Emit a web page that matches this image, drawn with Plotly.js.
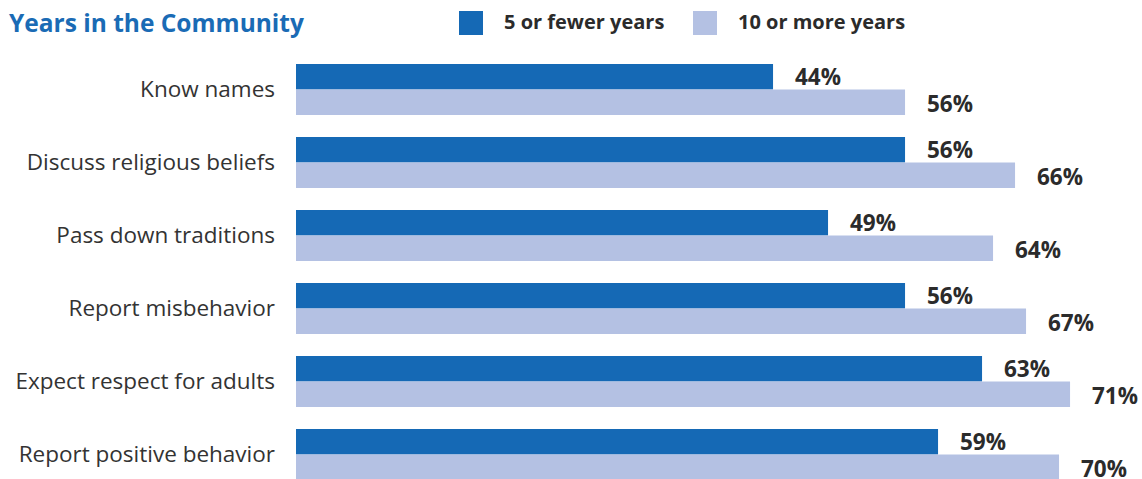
<!DOCTYPE html>
<html>
<head>
<meta charset="utf-8">
<script src="https://cdn.plot.ly/plotly-3.0.1.min.js"></script>
<style>
  html, body { margin: 0; padding: 0; background: #ffffff; }
  #chart { width: 1142px; height: 479px; }
</style>
</head>
<body>
<div id="chart"></div>
<script>
// Survey items, top to bottom
const categories = [
  "Know names",
  "Discuss religious beliefs",
  "Pass down traditions",
  "Report misbehavior",
  "Expect respect for adults",
  "Report positive behavior"
];
const seriesNames = ["5 or fewer years", "10 or more years"];
const fewerYears = [44, 56, 49, 56, 63, 59];
const moreYears = [56, 66, 64, 67, 71, 70];
const chartTitle = "Years in the Community";

const W = 1142, H = 479;
const M = { l: 296, r: 0, t: 53, b: 0 };
const colors = ["#1569b5", "#b4c1e3"];
const labelFont = { family: "Open Sans, sans-serif", size: 22.5, color: "#2b2b2b" };

// pixel -> paper helpers for the hand-built legend
const px = x => (x - M.l) / (W - M.l - M.r);
const py = y => (H - M.b - y) / (H - M.t - M.b);

const series = [fewerYears, moreYears];
const traces = series.map((vals, i) => ({
  type: "bar",
  orientation: "h",
  name: seriesNames[i],
  x: vals,
  y: categories,
  marker: { color: colors[i], line: { width: 0 } },
  hoverinfo: "skip"
}));

const annotations = [];
series.forEach((vals, i) => {
  vals.forEach((v, k) => {
    annotations.push({
      x: v, y: categories[k], xref: "x", yref: "y",
      text: "<b>" + v + "%</b>",
      showarrow: false, xanchor: "left", yanchor: "middle",
      xshift: 20, yshift: i === 0 ? 13 : -14,
      font: labelFont
    });
  });
});

// legend: colored squares with bold labels
const legendItems = [
  { sq: [459, 483], tx: 502 },
  { sq: [693, 717], tx: 736 }
];
const shapes = [];
legendItems.forEach((it, i) => {
  shapes.push({
    type: "rect", xref: "paper", yref: "paper",
    x0: px(it.sq[0]), x1: px(it.sq[1]), y0: py(35), y1: py(11),
    fillcolor: colors[i], line: { width: 0 }
  });
  annotations.push({
    xref: "paper", yref: "paper", x: px(it.tx), y: py(21),
    text: "<b>" + seriesNames[i] + "</b>", showarrow: false,
    xanchor: "left", yanchor: "middle",
    font: { family: "Open Sans, sans-serif", size: 20, color: "#2b2b2b" }
  });
});

const layout = {
  width: W, height: H,
  margin: M,
  paper_bgcolor: "#ffffff",
  plot_bgcolor: "#ffffff",
  barmode: "group",
  bargap: 0.3,
  bargroupgap: 0,
  showlegend: false,
  title: {
    text: "<b>" + chartTitle + "</b>",
    x: 9 / W, xanchor: "left", xref: "container",
    y: 1 - 23 / H, yanchor: "middle", yref: "container",
    font: { family: "Open Sans, sans-serif", size: 24.5, color: "#1a6bb5" }
  },
  xaxis: {
    range: [0.636, 77.54],
    showgrid: false, zeroline: false, showline: false,
    showticklabels: false, ticks: "", fixedrange: true
  },
  yaxis: {
    type: "category",
    range: [5.336, -0.5],
    showgrid: false, zeroline: false, showline: false,
    ticks: "", ticklabelstandoff: 20,
    tickfont: { family: "Open Sans, sans-serif", size: 22.5, color: "#333333" },
    fixedrange: true
  },
  shapes: shapes,
  annotations: annotations
};

Plotly.newPlot("chart", traces, layout, { displayModeBar: false, staticPlot: true });
</script>
</body>
</html>
